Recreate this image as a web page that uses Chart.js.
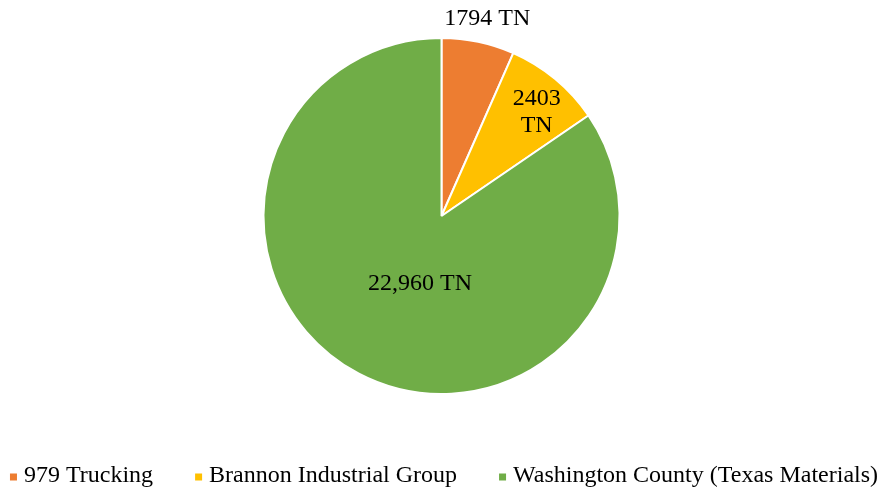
<!DOCTYPE html>
<html>
<head>
<meta charset="utf-8">
<script src="https://cdn.jsdelivr.net/npm/chart.js@4"></script>
<style>
  html, body { margin: 0; padding: 0; background: #fff; }
  #wrap { width: 883px; height: 491px; }
</style>
</head>
<body>
<div id="wrap"><canvas id="chart"></canvas></div>
<script>
const labels = ['979 Trucking', 'Brannon Industrial Group', 'Washington County (Texas Materials)'];
const tons = [1794, 2403, 22960];
const valueLabels = [['1794 TN'], ['2403', 'TN'], ['22,960 TN']];
const colors = ['#ED7D31', '#FFC000', '#70AD47'];

// where each value label sits: fraction of radius, extra angle (rad)
const labelPlace = [
  { r: 1.14, da: 0.02 },
  { r: 0.79, da: 0.05 },
  { r: 0.40, da: -0.18 }
];

const FONT = '"Liberation Serif", "Times New Roman", serif';

const valueLabelPlugin = {
  id: 'valueLabels',
  afterDatasetsDraw(chart) {
    const c = chart.ctx;
    const meta = chart.getDatasetMeta(0);
    c.save();
    c.font = '24px ' + FONT;
    c.fillStyle = '#000';
    c.textAlign = 'center';
    c.textBaseline = 'middle';
    meta.data.forEach((arc, i) => {
      const p = arc.getProps(['x', 'y', 'startAngle', 'endAngle', 'outerRadius'], true);
      const mid = (p.startAngle + p.endAngle) / 2 + labelPlace[i].da;
      const rr = p.outerRadius * labelPlace[i].r;
      const x = p.x + Math.cos(mid) * rr;
      const y = p.y + Math.sin(mid) * rr;
      const lines = valueLabels[i];
      const lh = 27;
      lines.forEach((t, k) => {
        c.fillText(t, x, y + (k - (lines.length - 1) / 2) * lh);
      });
    });
    c.restore();
  }
};

// one-row legend like the original (built-in one wraps at this width)
const rowLegend = {
  id: 'rowLegend',
  afterDraw(chart) {
    const c = chart.ctx;
    const box = 7, gapText = 7, gapItem = 42, y = 476;
    c.save();
    c.font = '24px ' + FONT;
    c.textBaseline = 'middle';
    c.textAlign = 'left';
    const items = chart.data.labels.map((t, i) => ({
      t, col: chart.data.datasets[0].backgroundColor[i], w: box + gapText + c.measureText(t).width
    }));
    const total = items.reduce((s, it) => s + it.w, 0) + gapItem * (items.length - 1);
    let x = 444 - total / 2;
    items.forEach(it => {
      c.fillStyle = it.col;
      c.fillRect(x, y - box / 2 + 1, box, box);
      c.fillStyle = '#000';
      c.fillText(it.t, x + box + gapText, y);
      x += it.w + gapItem;
    });
    c.restore();
  }
};

new Chart(document.getElementById('chart'), {
  type: 'pie',
  data: {
    labels,
    datasets: [{
      data: tons,
      backgroundColor: colors,
      borderColor: '#fff',
      borderWidth: 2
    }]
  },
  options: {
    responsive: true,
    maintainAspectRatio: false,
    animation: false,
    layout: { padding: { top: 37, bottom: 96 } },
    plugins: {
      tooltip: { enabled: false },
      legend: { display: false }
    }
  },
  plugins: [valueLabelPlugin, rowLegend]
});
</script>
</body>
</html>
